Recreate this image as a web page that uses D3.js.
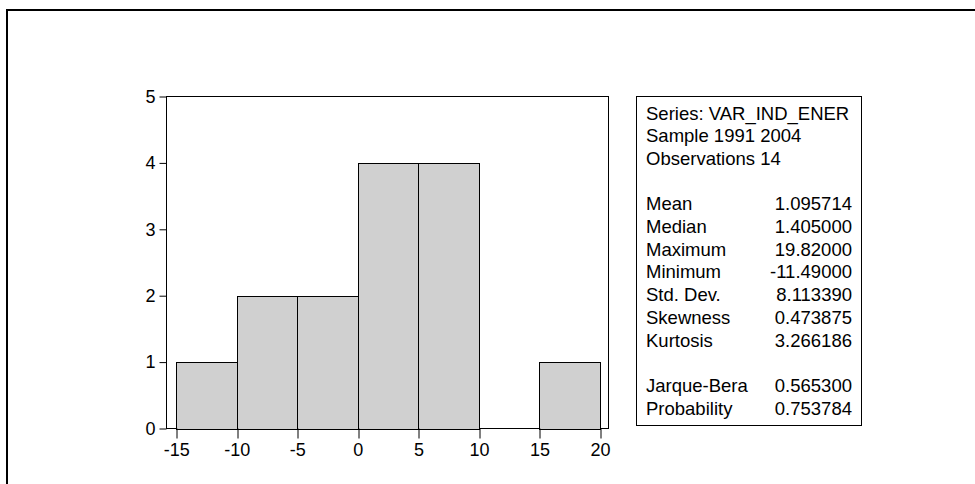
<!DOCTYPE html>
<html>
<head>
<meta charset="utf-8">
<script src="https://cdn.jsdelivr.net/npm/d3@7"></script>
<style>
  html, body { margin: 0; padding: 0; background: #fff; }
  svg { display: block; }
  text { font-family: "Liberation Sans", Arial, sans-serif; fill: #000; }
</style>
</head>
<body>
<svg id="chart" width="975" height="484"></svg>
<script>
// Histogram bins (lower edge, upper edge) and counts
const binStarts = [-15, -10, -5, 0, 5, 10, 15];
const binEnds   = [-10, -5, 0, 5, 10, 15, 20];
const counts    = [1, 2, 2, 4, 4, 0, 1];

// Axis tick values
const xTicks = [-15, -10, -5, 0, 5, 10, 15, 20];
const yTicks = [0, 1, 2, 3, 4, 5];

// Descriptive statistics panel
const headerLines = ["Series: VAR_IND_ENER", "Sample 1991 2004", "Observations 14"];
const statNames  = ["Mean", "Median", "Maximum", "Minimum", "Std. Dev.", "Skewness", "Kurtosis"];
const statValues = ["1.095714", "1.405000", "19.82000", "-11.49000", "8.113390", "0.473875", "3.266186"];
const testNames  = ["Jarque-Bera", "Probability"];
const testValues = ["0.565300", "0.753784"];

const svg = d3.select("#chart");
const FONT = "'Liberation Sans', Arial, sans-serif";

// Outer frame (open at right and bottom)
svg.append("path")
  .attr("d", "M7,484 V10 H975")
  .attr("fill", "none")
  .attr("stroke", "#000")
  .attr("stroke-width", 2);

const plot = { left: 166.5, top: 96.5, right: 608.5, bottom: 428.5 };

const x = d3.scaleLinear().domain([-15.8, 20.7]).range([plot.left, plot.right]);
const y = d3.scaleLinear().domain([0, 5]).range([plot.bottom, plot.top]);
const px = v => Math.round(x(v)) + 0.5;

// Plot frame
svg.append("rect")
  .attr("x", plot.left).attr("y", plot.top)
  .attr("width", plot.right - plot.left).attr("height", plot.bottom - plot.top)
  .attr("fill", "#fff").attr("stroke", "#000").attr("stroke-width", 1);

// Bars
const bins = binStarts.map((s, i) => ({ x0: s, x1: binEnds[i], n: counts[i] }));
svg.append("g").selectAll("rect")
  .data(bins)
  .join("rect")
  .attr("x", d => px(d.x0))
  .attr("y", d => Math.round(y(d.n)) + 0.5)
  .attr("width", d => px(d.x1) - px(d.x0))
  .attr("height", d => Math.round(y(0)) - Math.round(y(d.n)))
  .attr("fill", "#d0d0d0")
  .attr("stroke", "#000")
  .attr("stroke-width", 1);

// X axis
const xAxis = svg.append("g")
  .attr("transform", `translate(0,${plot.bottom})`)
  .call(d3.axisBottom(x).tickValues(xTicks).tickSize(10).tickSizeOuter(0).tickPadding(5)
    .tickFormat(d => String(d)));
xAxis.select(".domain").remove();
xAxis.selectAll(".tick line")
  .attr("transform", d => `translate(${px(d) - x(d)},0)`)
  .attr("stroke", "#000");
xAxis.selectAll("text")
  .attr("font-size", 18).attr("font-family", FONT)
  .attr("dy", "0.7em");

// Y axis
const yAxis = svg.append("g")
  .attr("transform", `translate(${plot.left},0)`)
  .call(d3.axisLeft(y).tickValues(yTicks).tickSize(7).tickSizeOuter(0).tickPadding(4)
    .tickFormat(d => String(d)));
yAxis.select(".domain").remove();
yAxis.selectAll(".tick line").attr("stroke", "#000");
yAxis.selectAll("text").attr("font-size", 18).attr("font-family", FONT);

// Statistics box
const box = { left: 636.5, top: 96.5, right: 861.5, bottom: 425.5 };
svg.append("rect")
  .attr("x", box.left).attr("y", box.top)
  .attr("width", box.right - box.left).attr("height", box.bottom - box.top)
  .attr("fill", "#fff").attr("stroke", "#000").attr("stroke-width", 1);

const lineH = 22.7;
const textX = 646;
const valX = 852;
const firstBase = 119.5;
const g = svg.append("g").attr("font-size", 18.5).attr("font-family", FONT);

g.selectAll("text.hdr").data(headerLines).join("text")
  .attr("class", "hdr")
  .attr("x", textX).attr("y", (d, i) => firstBase + i * lineH)
  .text(d => d);

const statBase = firstBase + 4 * lineH;
g.selectAll("text.sn").data(statNames).join("text")
  .attr("class", "sn")
  .attr("x", textX).attr("y", (d, i) => statBase + i * lineH)
  .text(d => d);
g.selectAll("text.sv").data(statValues).join("text")
  .attr("class", "sv")
  .attr("x", valX).attr("y", (d, i) => statBase + i * lineH)
  .attr("text-anchor", "end")
  .text(d => d);

const testBase = statBase + 8 * lineH;
g.selectAll("text.tn").data(testNames).join("text")
  .attr("class", "tn")
  .attr("x", textX).attr("y", (d, i) => testBase + i * lineH)
  .text(d => d);
g.selectAll("text.tv").data(testValues).join("text")
  .attr("class", "tv")
  .attr("x", valX).attr("y", (d, i) => testBase + i * lineH)
  .attr("text-anchor", "end")
  .text(d => d);
</script>
</body>
</html>
